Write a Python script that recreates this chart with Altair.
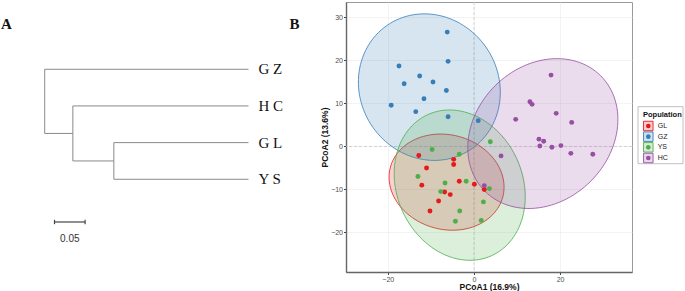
import math
import altair as alt
import pandas as pd

# ---------------- Panel A: UPGMA dendrogram ----------------
leaf_names = ["GZ", "HC", "GL", "YS"]
leaf_labels = ["G Z", "H C", "G L", "Y S"]
leaf_depth = 0.333
node_names = ["n2", "n1", "root"]
node_children = [("GL", "YS"), ("HC", "n2"), ("GZ", "n1")]
node_depth = [0.113, 0.046, 0.0]
scale_bar_start = 0.016
scale_bar_len = 0.05

# ---------------- Panel B: PCoA ----------------
pops = ["GL", "GZ", "YS", "HC"]
pop_colors = ["#E41A1C", "#377EB8", "#4DAF4A", "#984EA3"]

GL_x = [-12.8, -4.7, -4.7, -11.0, -12.1, -3.4, 0.1, -6.8, -5.5, 2.4, -8.2, -10.2]
GL_y = [-2.1, -3.0, -4.2, -5.0, -9.0, -8.1, -8.8, -10.6, -11.2, -10.0, -12.7, -15.0]
GZ_x = [-6.2, -17.4, -6.0, -16.2, -12.6, -9.5, -6.4, -11.6, -19.2, -13.5, -6.0, 1.0]
GZ_y = [26.6, 18.7, 19.8, 14.6, 16.4, 15.0, 13.0, 11.1, 9.6, 8.1, 6.9, 6.0]
YS_x = [-9.7, -3.4, 3.8, -13.0, -6.7, -1.8, -7.7, 3.6, 2.2, -3.3, 1.7, -4.3]
YS_y = [-0.7, -1.8, 1.1, -7.0, -8.5, -8.1, -10.5, -9.8, -12.9, -15.0, -17.2, -17.4]
HC_x = [17.9, 13.0, 13.5, 19.1, 9.7, 22.7, 15.1, 16.2, 15.3, 18.1, 20.2, 22.5, 27.6, 6.3, 2.4]
HC_y = [16.6, 10.4, 9.8, 7.7, 6.3, 5.6, 1.7, 1.2, 0.1, -0.2, 0.2, -1.6, -1.8, -2.2, -9.1]

# confidence ellipses (centre, semi-axes, rotation in degrees)
ell_cx = [-6.35, -10.35, -3.3, 16.0]
ell_cy = [-8.3, 13.8, -9.0, 3.0]
ell_a = [13.5, 17.4, 18.0, 19.0]
ell_b = [11.0, 16.1, 14.6, 15.7]
ell_rot = [-15, 122, 114, 45]

x_ticks = [-20, 0, 20]
y_ticks = [-20, -10, 0, 10, 20, 30]

# ---------------- build tables ----------------
ypos = {n: i for i, n in enumerate(leaf_names)}
xpos = {n: leaf_depth for n in leaf_names}
for name, (c1, c2), d in zip(node_names, node_children, node_depth):
    ypos[name] = (ypos[c1] + ypos[c2]) / 2
    xpos[name] = d
segs = []
for name, (c1, c2), d in zip(node_names, node_children, node_depth):
    segs.append(dict(x=d, x2=d, y=ypos[c1], y2=ypos[c2]))
    for c in (c1, c2):
        segs.append(dict(x=d, x2=xpos[c], y=ypos[c], y2=ypos[c]))
seg_df = pd.DataFrame(segs)
leaf_df = pd.DataFrame({"x": [leaf_depth] * 4, "y": list(range(4)), "label": leaf_labels})

sb_y = 4.165
sb_df = pd.DataFrame([
    dict(x=scale_bar_start, x2=scale_bar_start + scale_bar_len, y=sb_y, y2=sb_y),
    dict(x=scale_bar_start, x2=scale_bar_start, y=sb_y - 0.06, y2=sb_y + 0.06),
    dict(x=scale_bar_start + scale_bar_len, x2=scale_bar_start + scale_bar_len, y=sb_y - 0.06, y2=sb_y + 0.06),
])
sb_text = pd.DataFrame({"x": [scale_bar_start + scale_bar_len / 2], "y": [4.63], "t": ["0.05"]})

W1, H = 339, 270
dx0 = -43.7 / 612.0
dx1 = dx0 + W1 / 612.0
dxs = alt.Scale(domain=[dx0, dx1], nice=False, zero=False)
dys = alt.Scale(domain=[-1.835, 5.529], nice=False, zero=False, reverse=True)

tree = alt.Chart(seg_df).mark_rule(color="#8a8a8a", strokeWidth=1).encode(
    x=alt.X("x:Q", scale=dxs, axis=None), x2="x2:Q",
    y=alt.Y("y:Q", scale=dys, axis=None), y2="y2:Q")
leaves = alt.Chart(leaf_df).mark_text(align="left", baseline="middle", dx=10, font="Liberation Serif",
                                      fontSize=15, color="#111").encode(
    x=alt.X("x:Q", scale=dxs, axis=None), y=alt.Y("y:Q", scale=dys, axis=None), text="label:N")
sbar = alt.Chart(sb_df).mark_rule(color="#444", strokeWidth=1.2).encode(
    x=alt.X("x:Q", scale=dxs, axis=None), x2="x2:Q",
    y=alt.Y("y:Q", scale=dys, axis=None), y2="y2:Q")
sbt = alt.Chart(sb_text).mark_text(font="Liberation Sans", fontSize=10, color="#333", baseline="middle").encode(
    x=alt.X("x:Q", scale=dxs, axis=None), y=alt.Y("y:Q", scale=dys, axis=None), text="t:N")
lab_df = pd.DataFrame({"t": ["A", "B"], "px": [5.5, 293.5]})
panel_labels = alt.Chart(lab_df).mark_text(font="Liberation Serif", fontWeight="bold", fontSize=15,
                                           baseline="middle", color="#111").encode(
    x=alt.X("px:Q", scale=alt.Scale(domain=[0, W1], nice=False, zero=False), axis=None),
    y=alt.value(21.5), text="t:N")
dendro = alt.layer(tree, leaves, sbar, sbt, panel_labels).resolve_scale(x="independent").properties(
    width=W1, height=H)

# points table
pts = []
for p, xs, ys in zip(pops, [GL_x, GZ_x, YS_x, HC_x], [GL_y, GZ_y, YS_y, HC_y]):
    for a, b in zip(xs, ys):
        pts.append(dict(pop=p, PCoA1=a, PCoA2=b))
pts_df = pd.DataFrame(pts)

# ellipse outlines
rows = []
n = 120
for p, cx, cy, a, b, r in zip(pops, ell_cx, ell_cy, ell_a, ell_b, ell_rot):
    th = math.radians(r)
    for i in range(n + 1):
        t = 2 * math.pi * i / n
        ex = cx + a * math.cos(t) * math.cos(th) - b * math.sin(t) * math.sin(th)
        ey = cy + a * math.cos(t) * math.sin(th) + b * math.sin(t) * math.cos(th)
        rows.append(dict(pop=p, PCoA1=ex, PCoA2=ey, i=i))
ell_df = pd.DataFrame(rows)

cscale = alt.Scale(domain=pops, range=pop_colors)
xs_ = alt.Scale(domain=[-29.7, 36.7], nice=False, zero=False)
ys_ = alt.Scale(domain=[-29.2, 33.6], nice=False, zero=False)

axis_common = dict(labelFontSize=7, labelColor="#4d4d4d", labelFont="Liberation Sans",
                   titleFont="Liberation Sans", titleFontSize=8.5, titleFontWeight="bold",
                   titleColor="#111", tickColor="#444", tickSize=2.5, domainColor="#666",
                   domainWidth=1.4, gridColor="#ebebeb", gridWidth=0.6, labelPadding=1)
xax = alt.Axis(values=x_ticks, title="PCoA1 (16.9%)", titlePadding=0, **axis_common)
yax = alt.Axis(values=y_ticks, title="PCoA2 (13.6%)", titlePadding=1, **axis_common)

dummy = pd.DataFrame({"z": [0]})
vline = alt.Chart(dummy).mark_rule(color="#c4c4c4", strokeDash=[3, 2], strokeWidth=0.7).encode(
    x=alt.X("z:Q", scale=xs_, axis=xax))
hline = alt.Chart(dummy).mark_rule(color="#c4c4c4", strokeDash=[3, 2], strokeWidth=0.7).encode(
    y=alt.Y("z:Q", scale=ys_, axis=yax))
ells = alt.Chart(ell_df).mark_line(strokeWidth=0.8, fillOpacity=0.2).encode(
    x=alt.X("PCoA1:Q", scale=xs_, axis=xax),
    y=alt.Y("PCoA2:Q", scale=ys_, axis=yax),
    color=alt.Color("pop:N", scale=cscale, legend=None),
    fill=alt.Fill("pop:N", scale=cscale, legend=None),
    detail="pop:N", order="i:Q")
dots = alt.Chart(pts_df).mark_circle(size=24, opacity=1).encode(
    x=alt.X("PCoA1:Q", scale=xs_, axis=xax),
    y=alt.Y("PCoA2:Q", scale=ys_, axis=yax),
    color=alt.Color("pop:N", scale=cscale, legend=None))
pcoa = alt.layer(vline, hline, ells, dots).properties(
    width=286, height=H, view=alt.ViewBackground(stroke="#9a9a9a", strokeWidth=1))

# manual legend
leg_df = pd.DataFrame({"pop": pops})
lys = alt.Scale(type="point", domain=pops, range=[124, 156], padding=0)
box = alt.Chart(dummy).mark_rect(fill="white", stroke="#b0b0b0", strokeWidth=0.8).encode(
    x=alt.value(0), x2=alt.value(45), y=alt.value(104.7), y2=alt.value(161.7))
ltitle = alt.Chart(dummy).mark_text(text="Population", align="left", baseline="middle",
                                    font="Liberation Sans", fontSize=7.5, fontWeight="bold",
                                    color="#111").encode(x=alt.value(5), y=alt.value(112.5))
keys = alt.Chart(leg_df).mark_square(size=90, fillOpacity=0.22, strokeWidth=0.9).encode(
    x=alt.value(10.3), y=alt.Y("pop:N", scale=lys, axis=None),
    fill=alt.Fill("pop:N", scale=cscale, legend=None),
    stroke=alt.Stroke("pop:N", scale=cscale, legend=None))
kdots = alt.Chart(leg_df).mark_circle(size=22, opacity=1).encode(
    x=alt.value(10.3), y=alt.Y("pop:N", scale=lys, axis=None),
    color=alt.Color("pop:N", scale=cscale, legend=None))
ktext = alt.Chart(leg_df).mark_text(align="left", baseline="middle", font="Liberation Sans",
                                    fontSize=7, color="#222").encode(
    x=alt.value(19.7), y=alt.Y("pop:N", scale=lys, axis=None), text="pop:N")
legend = alt.layer(box, ltitle, keys, kdots, ktext).properties(width=46, height=H)

chart = alt.hconcat(dendro, pcoa, legend, spacing=6, bounds="flush").properties(
    padding={"left": 0, "top": 1, "right": 0, "bottom": 0},
    background="white",
).configure_view(stroke="transparent")

chart.save("out.html", embed_options={"renderer": "svg", "actions": False})
